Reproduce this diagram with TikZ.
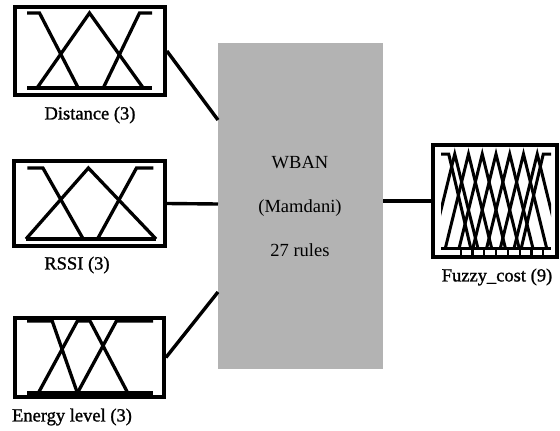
\documentclass[tikz,border=0pt]{standalone}
\usepackage{fontspec}
\setmainfont{Liberation Serif}
\newfontfamily\lblfont{Liberation Serif}[FakeBold=1.2]
\definecolor{wbangray}{RGB}{179,179,179}
\begin{document}
\begin{tikzpicture}[x=1pt,y=-1pt,
  mfbox/.style={draw, line width=3.8pt, inner sep=0pt},
  mfline/.style={line width=3.3pt, line join=miter},
  fcline/.style={line width=3pt, line join=miter},
  conn/.style={line width=3.4pt},
  lbl/.style={font=\lblfont\fontsize{18.5}{22}\selectfont, inner sep=0pt},
  wbanbox/.style={fill=wbangray, draw=none, inner sep=0pt},
  wtext/.style={font=\fontsize{18.5}{22}\selectfont, inner sep=0pt}]
\useasboundingbox (0,0) rectangle (560,431);

% --- boxes
\node[mfbox, minimum width=150pt, minimum height=88pt] (dist) at (90,51) {};
\node[mfbox, minimum width=151pt, minimum height=85pt] (rssi) at (89.5,203.5) {};
\node[mfbox, minimum width=149pt, minimum height=79pt] (energy) at (89.5,357.5) {};
\node[mfbox, minimum width=124pt, minimum height=112pt] (fuzzy) at (495,201) {};
\node[wbanbox, minimum width=165pt, minimum height=326pt] (wban) at (300.5,206) {};

% --- labels
\node[lbl] (ldist) at (90,115) {Distance (3)};
\node[lbl] (lrssi) at (77,265) {RSSI (3)};
\node[lbl] (lenergy) at (72,417) {Energy level (3)};
\node[lbl] (lfuzzy) at (497,277) {Fuzzy\_cost (9)};

\node[wtext] (t1) at (300,163) {WBAN};
\node[wtext] (t2) at (300,208) {(Mamdani)};
\node[wtext] (t3) at (300,250) {27 rules};

% --- connector end points on WBAN
\coordinate (w1) at (218,120);
\coordinate (w2) at (218,204);
\coordinate (w3) at (218,292);
\coordinate (w4) at (383,201);
\draw[conn] (dist.east) -- (w1);
\draw[conn] (rssi.east) -- (w2);
\draw[conn] (energy.east) -- (w3);
\draw[conn] (w4) -- (fuzzy.west);

% --- Distance MFs
\begin{scope}[shift={(27,88)}, x=125pt, y=75pt]
  \draw[mfline] (0,0) -- (1,0);
  \draw[mfline] (0,1) -- (0.10,1) -- (0.41,0);
  \draw[mfline] (0.08,0) -- (0.50,1) -- (0.93,0);
  \draw[mfline] (0.61,0) -- (0.90,1) -- (1,1);
\end{scope}

% --- RSSI MFs
\begin{scope}[shift={(26,239)}, x=130pt, y=71pt]
  \draw[mfline] (0,0) -- (1,0);
  \draw[mfline] (0.01,1) -- (0.13,1) -- (0.44,0);
  \draw[mfline] (0,0) -- (0.48,1) -- (1,0);
  \draw[mfline] (0.55,0) -- (0.85,1) -- (0.98,1);
\end{scope}

% --- Energy MFs
\begin{scope}[shift={(27,393)}, x=126pt, y=72pt]
  \draw[mfline] (0,0) -- (1,0);
  \draw[mfline] (0,1) -- (0.2,1) -- (0.4,0);
  \draw[mfline] (0.09,0) -- (0.4,1) -- (0.5,1) -- (0.8,0);
  \draw[mfline] (0.4,0) -- (0.71,1) -- (1,1);
\end{scope}

% --- Fuzzy_cost MFs
\begin{scope}[shift={(441,248)}, x=110pt, y=94pt]
  \draw[fcline] (0,0) -- (1,0);
  \begin{scope}
    \clip (0,-0.2) rectangle (1,1.2);
    \draw[fcline] (0,1) -- (0.07,1) -- (0.27,0);
    \foreach \k in {1,...,7} {
      \draw[fcline] ({\k/8-0.21},0) -- (\k/8,1) -- ({\k/8+0.21},0);
    }
    \draw[fcline] (0.73,0) -- (0.93,1) -- (1,1);
  \end{scope}
  \foreach \i in {0,...,7} {
    \draw[line width=2.2pt] ({0.18+\i*0.107},0) -- ({0.18+\i*0.107},-0.1);
  }
\end{scope}
\end{tikzpicture}
\end{document}
